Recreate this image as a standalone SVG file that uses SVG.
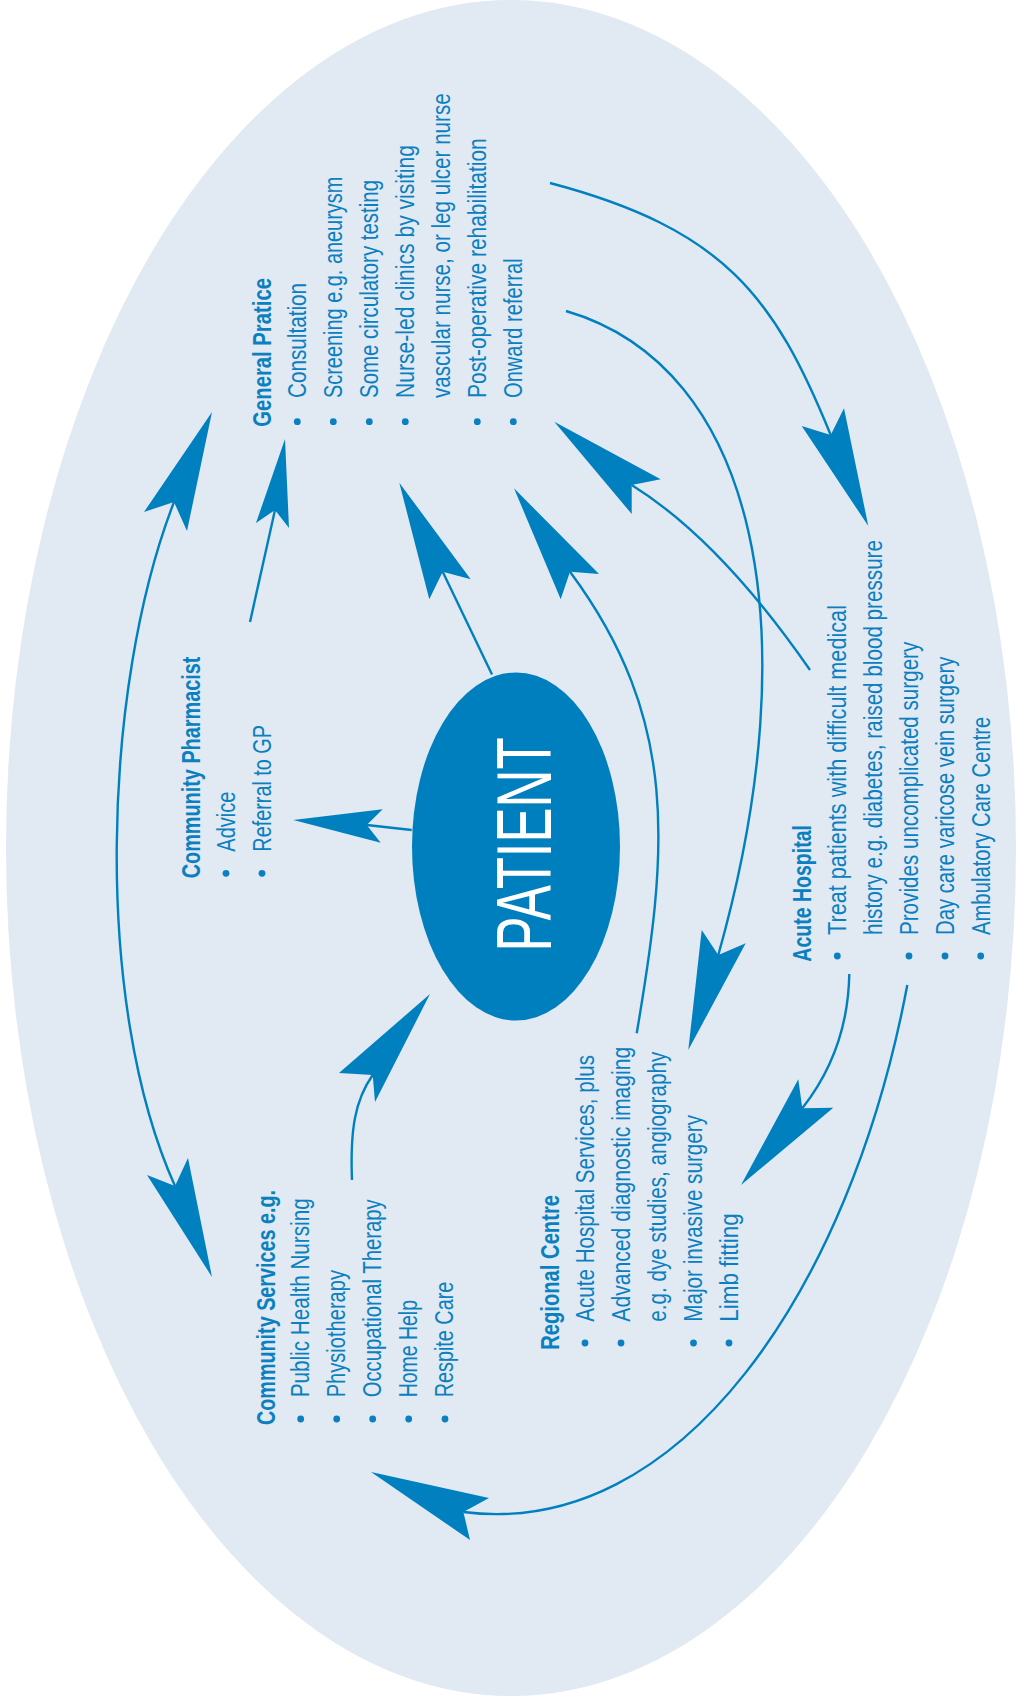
<svg xmlns="http://www.w3.org/2000/svg" width="1016" height="1697" viewBox="0 0 1016 1697">
  <style>
    .bg { fill: #e1e9f3; }
    .core { fill: #007fbe; }
    .t { font-family: "Liberation Sans", Arial, sans-serif; font-size: 26px; fill: #0a80c0; }
    .h { font-weight: bold; }
    .big { font-family: "Liberation Sans", Arial, sans-serif; font-size: 77px; fill: #ffffff; }
    .dot { fill: #0a80c0; }
    .line { fill: none; stroke: #0080bf; stroke-width: 2.4; }
    .head { fill: #0080bf; }
  </style>

  <!-- backdrop -->
  <ellipse class="bg" cx="511" cy="848" rx="505" ry="848"/>

  <!-- connectors -->
  <g id="connectors">
    <!-- community services <-> general practice -->
    <path class="line" d="M174,502 C 102,688 93,1004 175,1186"/>
    <path class="head" d="M212,412 L144,512 L174,502 L187,531 Z"/>
    <path class="head" d="M212,1277 L147,1175 L175,1186 L188,1158 Z"/>
    <!-- pharmacist -> general practice -->
    <path class="line" d="M250,622 L275,510"/>
    <path class="head" d="M285,439 L256,523 L275,510 L289,528 Z"/>
    <!-- patient -> general practice -->
    <path class="line" d="M492,674.5 L442.7,571.7"/>
    <path class="head" d="M399.3,482.7 L429.3,599.3 L442.7,571.7 L470.7,579.3 Z"/>
    <!-- regional centre -> general practice -->
    <path class="line" d="M636.7,1033.3 C 668,850 680,720 570,571.7"/>
    <path class="head" d="M514,488.3 L560.7,599.3 L570,571.7 L599,574 Z"/>
    <!-- acute hospital -> general practice -->
    <path class="line" d="M810,670 Q 720,540 631.7,485"/>
    <path class="head" d="M554.3,421.7 L631.7,514 L631.7,485 L660.7,479.3 Z"/>
    <!-- general practice -> acute hospital -->
    <path class="line" d="M550,183 C 724,229 774,296 830.7,435"/>
    <path class="head" d="M868.3,526 L801.7,426 L830.7,435 L844,408.3 Z"/>
    <!-- general practice -> regional centre -->
    <path class="line" d="M566,311 C 758,367 810,630 718.3,955"/>
    <path class="head" d="M688.3,1050 L701.7,930 L718.3,955 L745.7,943.3 Z"/>
    <!-- acute hospital -> regional centre -->
    <path class="line" d="M849.3,974 Q 848,1050 802.3,1108.3"/>
    <path class="head" d="M741,1185 L798.3,1079.3 L802.3,1108.3 L833.3,1107.7 Z"/>
    <!-- acute hospital -> community services -->
    <path class="line" d="M907.3,985 C 850,1290 680,1540 463.4,1512"/>
    <path class="head" d="M371,1472 L489,1498 L463.4,1512 L470,1540 Z"/>
    <!-- community services -> patient -->
    <path class="line" d="M352,1180 C 350,1130 355,1100 372.7,1075"/>
    <path class="head" d="M430,994 L339,1073 L372.7,1075 L375,1102 Z"/>
    <!-- patient -> pharmacist -->
    <path class="line" d="M411.7,830 L366.7,825"/>
    <path class="head" d="M293.3,820 L382.7,809.3 L366.7,825 L380.7,842.7 Z"/>
  </g>

  <!-- patient -->
  <g id="patient">
    <ellipse class="core" cx="516" cy="846.5" rx="104" ry="174"/>
    <text class="big" transform="rotate(-90)" x="-951.5" y="551" textLength="214" lengthAdjust="spacingAndGlyphs">PATIENT</text>
  </g>

  <!-- general practice -->
  <g id="general-practice">
    <g class="dot">
      <circle cx="297.3" cy="421.7" r="3.4"/>
      <circle cx="333.3" cy="421.7" r="3.4"/>
      <circle cx="369.3" cy="421.7" r="3.4"/>
      <circle cx="405.3" cy="421.7" r="3.4"/>
      <circle cx="477.3" cy="421.7" r="3.4"/>
      <circle cx="513.3" cy="421.7" r="3.4"/>
    </g>
    <g transform="rotate(-90)" class="t">
      <text class="h" x="-426.7" y="271.3" textLength="148.6" lengthAdjust="spacingAndGlyphs">General Pratice</text>
      <text x="-398" y="306" textLength="115" lengthAdjust="spacingAndGlyphs">Consultation</text>
      <text x="-398" y="342" textLength="221.3" lengthAdjust="spacingAndGlyphs">Screening e.g. aneurysm</text>
      <text x="-398" y="378" textLength="218" lengthAdjust="spacingAndGlyphs">Some circulatory testing</text>
      <text x="-398" y="414" textLength="253" lengthAdjust="spacingAndGlyphs">Nurse-led clinics by visiting</text>
      <text x="-398" y="450" textLength="304.7" lengthAdjust="spacingAndGlyphs">vascular nurse, or leg ulcer nurse</text>
      <text x="-398" y="486" textLength="259.7" lengthAdjust="spacingAndGlyphs">Post-operative rehabilitation</text>
      <text x="-398" y="522" textLength="139.7" lengthAdjust="spacingAndGlyphs">Onward referral</text>
    </g>
  </g>

  <!-- community pharmacist -->
  <g id="community-pharmacist">
    <g class="dot">
      <circle cx="226" cy="873.3" r="3.4"/>
      <circle cx="262" cy="873.3" r="3.4"/>
    </g>
    <g transform="rotate(-90)" class="t">
      <text class="h" x="-878.3" y="200" textLength="221.7" lengthAdjust="spacingAndGlyphs">Community Pharmacist</text>
      <text x="-851.7" y="234.7" textLength="60" lengthAdjust="spacingAndGlyphs">Advice</text>
      <text x="-851.7" y="270.7" textLength="126.7" lengthAdjust="spacingAndGlyphs">Referral to GP</text>
    </g>
  </g>

  <!-- acute hospital -->
  <g id="acute-hospital">
    <g class="dot">
      <circle cx="837.3" cy="956" r="3.4"/>
      <circle cx="909" cy="956" r="3.4"/>
      <circle cx="945" cy="956" r="3.4"/>
      <circle cx="980.7" cy="956" r="3.4"/>
    </g>
    <g transform="rotate(-90)" class="t">
      <text class="h" x="-961.7" y="811.3" textLength="136.7" lengthAdjust="spacingAndGlyphs">Acute Hospital</text>
      <text x="-935" y="846" textLength="330" lengthAdjust="spacingAndGlyphs">Treat patients with difficult medical</text>
      <text x="-935" y="882" textLength="395" lengthAdjust="spacingAndGlyphs">history e.g. diabetes, raised blood pressure</text>
      <text x="-935" y="918" textLength="293.3" lengthAdjust="spacingAndGlyphs">Provides uncomplicated surgery</text>
      <text x="-935" y="954" textLength="278.3" lengthAdjust="spacingAndGlyphs">Day care varicose vein surgery</text>
      <text x="-935" y="990" textLength="218.3" lengthAdjust="spacingAndGlyphs">Ambulatory Care Centre</text>
    </g>
  </g>

  <!-- community services -->
  <g id="community-services">
    <g class="dot">
      <circle cx="300.7" cy="1419" r="3.4"/>
      <circle cx="336.7" cy="1419" r="3.4"/>
      <circle cx="372.7" cy="1419" r="3.4"/>
      <circle cx="408.7" cy="1419" r="3.4"/>
      <circle cx="445" cy="1419" r="3.4"/>
    </g>
    <g transform="rotate(-90)" class="t">
      <text class="h" x="-1425" y="274.7" textLength="235" lengthAdjust="spacingAndGlyphs">Community Services e.g.</text>
      <text x="-1397.3" y="309.3" textLength="199" lengthAdjust="spacingAndGlyphs">Public Health Nursing</text>
      <text x="-1397.3" y="345.3" textLength="127.3" lengthAdjust="spacingAndGlyphs">Physiotherapy</text>
      <text x="-1397.3" y="381.3" textLength="198" lengthAdjust="spacingAndGlyphs">Occupational Therapy</text>
      <text x="-1397.3" y="417.3" textLength="97.3" lengthAdjust="spacingAndGlyphs">Home Help</text>
      <text x="-1397.3" y="453.3" textLength="115.6" lengthAdjust="spacingAndGlyphs">Respite Care</text>
    </g>
  </g>

  <!-- regional centre -->
  <g id="regional-centre">
    <g class="dot">
      <circle cx="585" cy="1343" r="3.4"/>
      <circle cx="621" cy="1343" r="3.4"/>
      <circle cx="693.5" cy="1343" r="3.4"/>
      <circle cx="729" cy="1343" r="3.4"/>
    </g>
    <g transform="rotate(-90)" class="t">
      <text class="h" x="-1349.8" y="559" textLength="154.8" lengthAdjust="spacingAndGlyphs">Regional Centre</text>
      <text x="-1321.7" y="593.7" textLength="266.7" lengthAdjust="spacingAndGlyphs">Acute Hospital Services, plus</text>
      <text x="-1321.7" y="629.7" textLength="275" lengthAdjust="spacingAndGlyphs">Advanced diagnostic imaging</text>
      <text x="-1321.7" y="665.7" textLength="270" lengthAdjust="spacingAndGlyphs">e.g. dye studies, angiography</text>
      <text x="-1321.7" y="701.7" textLength="206.7" lengthAdjust="spacingAndGlyphs">Major invasive surgery</text>
      <text x="-1321.7" y="737.7" textLength="108.3" lengthAdjust="spacingAndGlyphs">Limb fitting</text>
    </g>
  </g>
</svg>
